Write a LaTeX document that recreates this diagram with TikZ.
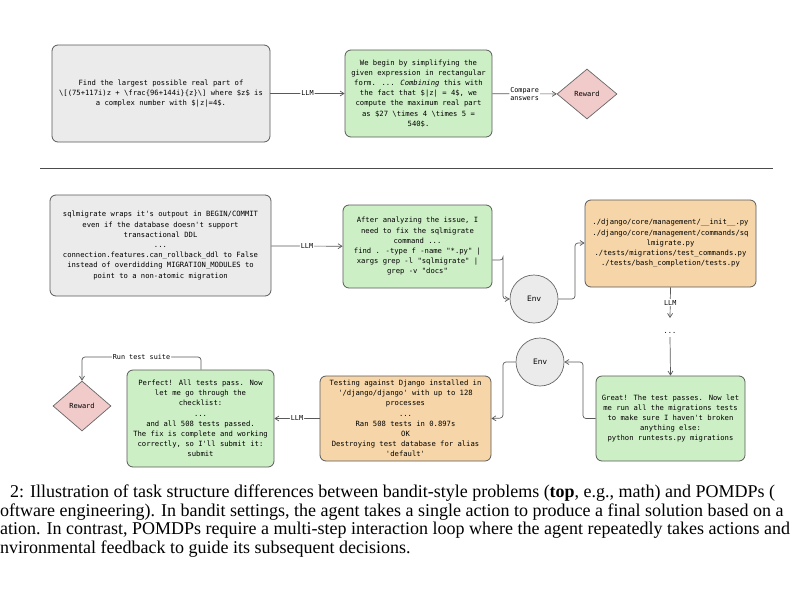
\documentclass[tikz,border=0pt]{standalone}
\usepackage{fontspec}
\setmainfont{Liberation Serif}
\newfontfamily\monof{DejaVu Sans Mono}
\newfontfamily\sansf{DejaVu Sans}
\usetikzlibrary{shapes.geometric,arrows.meta}
\definecolor{gfill}{HTML}{CDEFC5}
\definecolor{ofill}{HTML}{F6D6A8}
\definecolor{rfill}{HTML}{F1CACA}
\definecolor{efill}{HTML}{EBEBEB}
\begin{document}
\begin{tikzpicture}[x=1pt,y=-1pt,
 box/.style={draw=black!65,line width=0.8pt,rounded corners=6pt,align=center,font=\monof\fontsize{7.2}{10.2}\selectfont,inner sep=2pt},
 gbox/.style={box,fill=efill},
 env/.style={circle,draw=black!60,line width=0.7pt,fill=efill,minimum size=48pt,font=\sansf\fontsize{7.5}{9}\selectfont},
 rew/.style={diamond,draw=black!60,line width=0.7pt,fill=rfill,minimum width=60pt,minimum height=50pt,aspect=1.2,inner sep=0pt,font=\monof\fontsize{7}{9}\selectfont},
 arr/.style={draw=black!65,line width=0.7pt,-{Straight Barb[length=4pt,width=5pt]},rounded corners=3pt},
 lab/.style={fill=white,font=\monof\fontsize{6.8}{8}\selectfont,inner sep=1pt,align=center}]
\path[use as bounding box] (0,0) rectangle (800,600);
\begin{scope}
\clip (0,0) rectangle (800,600);
% top
\node[gbox,minimum width=218pt,minimum height=97pt] (q) at (161,93.5) {Find the largest possible real part of\\\textbackslash[(75+117i)z + \textbackslash frac\{96+144i\}\{z\}\textbackslash] where \$z\$ is\\a complex number with \$|z|=4\$.};
\node[box,fill=gfill,minimum width=147pt,minimum height=87pt] (a) at (418.5,93.5) {We begin by simplifying the\\given expression in rectangular\\form. ... \textit{Combining} this with\\the fact that \$|z| = 4\$, we\\compute the maximum real part\\as \$27 \textbackslash times 4 \textbackslash times 5 =\\540\$.};
\node[rew] (r1) at (587,94) {Reward};
\draw[arr] (q) -- node[lab]{LLM} (a);
\draw[arr] (a) -- node[lab]{Compare\\answers} (r1);
\draw[black!70,line width=0.6pt] (40,168) -- (773,168);
% bottom
\node[gbox,minimum width=221pt,minimum height=101pt] (p) at (160.5,245.5) {sqlmigrate wraps it's outpout in BEGIN/COMMIT\\even if the database doesn't support\\transactional DDL\\...\\connection.features.can\_rollback\_ddl to False\\instead of overdidding MIGRATION\_MODULES to\\point to a non-atomic migration};
\node[box,fill=gfill,minimum width=149pt,minimum height=83pt] (g2) at (417.5,246.5) {After analyzing the issue, I\\need to fix the sqlmigrate\\command ...\\find . -type f -name "*.py" |\\xargs grep -l "sqlmigrate" |\\grep -v "docs"};
\node[env] (e1) at (534,299) {Env};
\node[box,fill=ofill,minimum width=171pt,minimum height=87pt] (o1) at (670.5,243.5) {./django/core/management/\_\_init\_\_.py\\./django/core/management/commands/sq\\lmigrate.py\\./tests/migrations/test\_commands.py\\./tests/bash\_completion/tests.py};
\node[font=\monof\fontsize{7}{8}\selectfont] (dots) at (670,333) {...};
\node[box,fill=gfill,minimum width=149pt,minimum height=85pt] (g3) at (670.5,418.5) {Great! The test passes. Now let\\me run all the migrations tests\\to make sure I haven't broken\\anything else:\\python runtests.py migrations};
\node[env] (e2) at (540,362) {Env};
\node[box,fill=ofill,minimum width=171pt,minimum height=85pt] (o2) at (405.5,418.5) {Testing against Django installed in\\'/django/django' with up to 128\\processes\\...\\Ran 508 tests in 0.897s\\OK\\Destroying test database for alias\\'default'};
\node[box,fill=gfill,minimum width=147pt,minimum height=97pt] (g4) at (200.5,418.5) {Perfect! All tests pass. Now\\let me go through the\\checklist:\\...\\and all 508 tests passed.\\The fix is complete and working\\correctly, so I'll submit it:\\submit};
\node[rew,minimum width=58pt,minimum height=50pt] (r2) at (82,406) {Reward};
\draw[arr] (p) -- node[lab]{LLM} (g2);
\draw[arr] (g2.east|-0,260) -| (503,260) |- (e1.west);
\draw[arr] (e1.east) -| (575,243) -- (o1.west|-0,243);
\draw[arr] (o1.south) -- node[lab]{LLM} (670,318);
\draw[arr] (dots.south) -- (g3.north);
\draw[arr] (g3.west) -| (583,362) -- (e2.east);
\draw[arr] (e2.west) -| (503,418) -- (o2.east);
\draw[arr] (o2.west) -- node[lab]{LLM} (g4.east);
\draw[arr] (g4.north-|201,0) |- node[lab,pos=0.75]{Run test suite} (82,357) -- (r2.north);
% caption
\begin{scope}[every node/.style={anchor=base west,inner sep=0pt,font=\fontsize{18}{19}\selectfont}]
\node (c1) at (10,497) {2: Illustration of task structure differences between bandit-style problems (\textbf{top}, e.g., math) and POMDPs (};
\node (c2) at (0,516) {oftware engineering). In bandit settings, the agent takes a single action to produce a final solution based on a};
\node (c3) at (0,534) {ation. In contrast, POMDPs require a multi-step interaction loop where the agent repeatedly takes actions and};
\node (c4) at (0,553) {nvironmental feedback to guide its subsequent decisions.};
\end{scope}
\end{scope}
\end{tikzpicture}
\end{document}
